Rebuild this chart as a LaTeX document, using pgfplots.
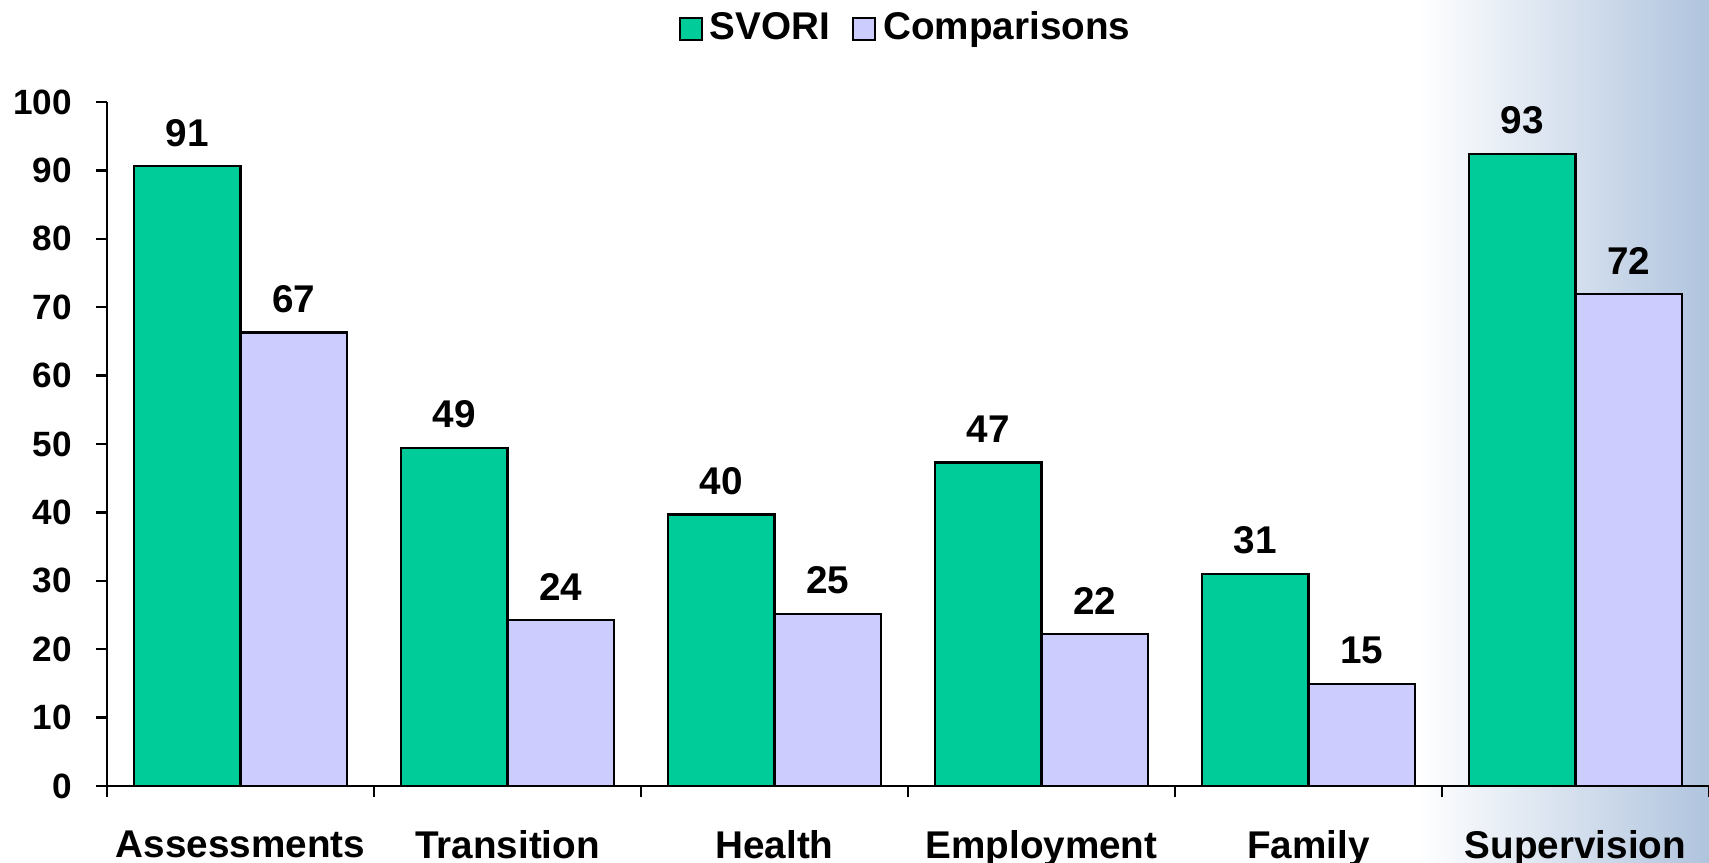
\documentclass[border=0pt]{standalone}
\usepackage{fontspec}
\setmainfont{Liberation Sans}
\usepackage{pgfplots}
\pgfplotsset{compat=1.18}

\definecolor{svori}{HTML}{00CC99}
\definecolor{comp}{HTML}{CCCCFF}
\definecolor{steel}{HTML}{B0C4DE}

\begin{document}
\begin{tikzpicture}
% background band on the right
\shade[left color=white, right color=steel] (131mm,-7.6mm) rectangle (160.2mm,78.6mm);
\begin{axis}[
    at={(0,0)}, anchor=south west,
    scale only axis,
    width=160.2mm, height=68.4mm,
    ybar=0pt, bar width=0.4,
    xmin=-0.5, xmax=5.5,
    ymin=0, ymax=100,
    ytick={0,10,...,100},
    xtick={-0.5,0.5,...,5.5},
    x tick label as interval,
    xticklabels={Assessments,Transition,Health,Employment,Family,Supervision},
    axis lines*=left,
    axis line style={line width=0.7pt},
    tick style={line width=0.7pt, black},
    tick align=outside,
    major tick length=1.1mm,
    /pgf/number format/assume math mode=true,
    font=\fontsize{11}{13}\selectfont\bfseries,
    x tick label style={font=\fontsize{11}{13}\selectfont\bfseries, yshift=-2.1mm},
    y tick label style={font=\fontsize{10}{12}\selectfont\bfseries, xshift=-1.15mm},
    nodes near coords,
    point meta=explicit symbolic,
    nodes near coords style={font=\fontsize{11}{13}\selectfont\bfseries, yshift=0.7mm},
    legend style={at={(0.5,1)}, anchor=south, yshift=4.2mm, draw=none,
        legend columns=-1, font=\fontsize{11}{13}\selectfont\bfseries,
        /tikz/every even column/.append style={column sep=1.5mm}},
    legend image code/.code={\draw[#1, line width=0.6pt] (0mm,-1.1mm) rectangle (2.2mm,1.1mm);},
]
% bar heights as drawn, labels as printed
\addplot[fill=svori, draw=black, line width=0.6pt] coordinates {
    (0,90.6)[91] (1,49.4)[49] (2,39.7)[40] (3,47.3)[47] (4,31.0)[31] (5,92.4)[93]};
\addlegendentry{SVORI}
\addplot[fill=comp, draw=black, line width=0.6pt] coordinates {
    (0,66.3)[67] (1,24.3)[24] (2,25.2)[25] (3,22.2)[22] (4,14.9)[15] (5,71.9)[72]};
\addlegendentry{Comparisons}
\end{axis}
\pgfresetboundingbox
\path (-10.7mm,-7.6mm) rectangle (160.2mm,78.6mm);
\end{tikzpicture}
\end{document}
